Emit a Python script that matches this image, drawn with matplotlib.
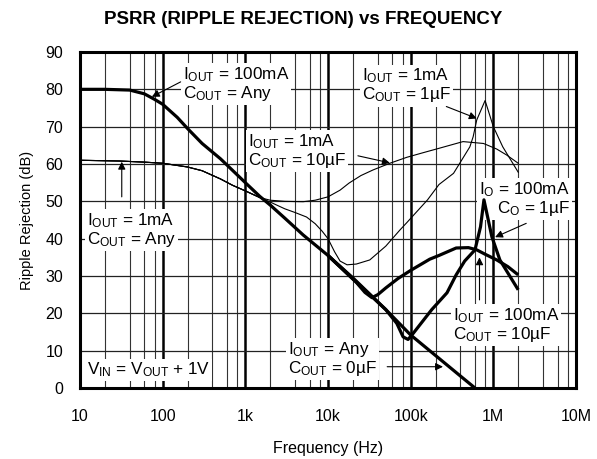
import matplotlib
matplotlib.use("Agg")
import matplotlib.pyplot as plt
from matplotlib.ticker import LogLocator, FixedLocator, FixedFormatter, NullFormatter

plt.rcParams['font.family'] = ['Liberation Sans', 'DejaVu Sans']
plt.rcParams['mathtext.fontset'] = 'custom'
plt.rcParams['mathtext.rm'] = 'Liberation Sans'
plt.rcParams['mathtext.it'] = 'Liberation Sans:italic'
plt.rcParams['mathtext.bf'] = 'Liberation Sans:bold'

# ---- data (Hz, dB) ----
# I_OUT = 100mA, C_OUT = Any (also I_OUT = Any, C_OUT = 0uF)
f_main = [10, 20, 40, 60, 80, 100, 150, 200, 300, 500, 700, 1000, 1500, 2000,
          3000, 5000, 10000, 20000, 50000, 100000, 200000, 400000, 600000]
db_main = [80, 80, 79.8, 78.8, 77.3, 76, 72.5, 69.5, 65.5, 61.4, 58.3, 55, 51.3, 49,
           45.5, 41, 35.5, 29.5, 21, 14.2, 8.7, 3.2, 0]

# I_OUT = 1mA, C_OUT = Any
f_1ma_any = [10, 30, 60, 100, 200, 300, 500, 700, 1000, 1500, 2000, 3000, 5000,
             10000, 20000, 50000, 100000, 200000, 400000, 600000]
db_1ma_any = [61, 60.8, 60.5, 60.2, 59.2, 58.2, 56, 54.3, 52.8, 51, 49.3, 45.5, 41,
              35.5, 29.5, 21, 14.2, 8.7, 3.2, 0]

# I_OUT = 1mA, C_OUT = 10uF
f_1ma_10u = [10, 30, 60, 100, 200, 300, 500, 700, 1000, 1500, 2000, 3000, 5000,
             7000, 10000, 14000, 18000, 25000, 35000, 56000, 90000, 140000, 220000,
             430000, 760000, 1100000, 1450000, 2000000]
db_1ma_10u = [61, 60.8, 60.5, 60.2, 59.2, 58.2, 56, 54.3, 52.8, 51, 50.3, 50, 49.9,
              50.3, 51.2, 53, 54.9, 56.9, 58.4, 60.2, 61.8, 63, 64.2,
              66, 65.5, 64, 62.4, 60.2]

# I_OUT = 1mA, C_OUT = 1uF
f_1ma_1u = [10, 30, 60, 100, 200, 300, 500, 700, 1000, 1500, 2000, 3000, 4000,
            5500, 7000, 8500, 10000, 12000, 14000, 17000, 22000, 32000, 50000,
            74000, 89000, 160000, 220000, 330000, 520000, 570000, 630000, 795000,
            1000000, 1300000, 2000000]
db_1ma_1u = [61, 60.8, 60.5, 60.2, 59.2, 58.2, 56, 54.3, 52.8, 51, 49.8, 48, 47,
             45.8, 44, 42, 40, 36.5, 34, 33, 33.2, 34.3, 38,
             42.3, 44.2, 50.4, 54.5, 57.5, 64.6, 67.3, 71.8, 77,
             70, 64.6, 57.8]

# I_OUT = 100mA, C_OUT = 10uF
f_100ma_10u = [10000, 22000, 28000, 34000, 40000, 50000, 70000, 100000, 170000,
               220000, 355000, 500000, 630000, 800000, 1100000, 1500000, 2000000]
db_100ma_10u = [35.5, 28.3, 25.6, 24.2, 25, 26.8, 29.3, 31.5, 34.5,
                35.5, 37.5, 37.6, 37, 35.8, 34.3, 32.5, 30.3]

# I_OUT = 100mA, C_OUT = 1uF
f_100ma_1u = [10000, 50000, 68000, 81000, 93000, 107000, 180000, 275000, 355000,
              450000, 600000, 700000, 770000, 960000, 1200000, 2000000]
db_100ma_1u = [35.5, 21, 17.3, 13.7, 13, 14.6, 21, 25.5, 30.3,
               34, 37, 43.2, 50.4, 40.5, 34.3, 26.3]

x_ticks = [10, 100, 1e3, 1e4, 1e5, 1e6, 1e7]
x_labels = ["10", "100", "1k", "10k", "100k", "1M", "10M"]
y_ticks = list(range(0, 91, 10))

fig = plt.figure(figsize=(5.97, 4.59), dpi=100)
ax = fig.add_axes([80 / 597, 71 / 459, 496 / 597, 336 / 459])

ax.set_xscale('log')
ax.set_xlim(10, 1e7)
ax.set_ylim(0, 90)

ax.xaxis.set_major_locator(FixedLocator(x_ticks))
ax.xaxis.set_major_formatter(FixedFormatter(x_labels))
ax.xaxis.set_minor_locator(LogLocator(base=10, subs=[2, 4, 6, 8], numticks=20))
ax.xaxis.set_minor_formatter(NullFormatter())
ax.set_yticks(y_ticks)

ax.grid(which='major', axis='x', color='black', lw=1.8, zorder=1)
ax.grid(which='minor', axis='x', color='#333333', lw=0.8, zorder=1)
ax.grid(which='major', axis='y', color='#222222', lw=0.9, zorder=1)
ax.set_axisbelow(True)
ax.tick_params(which='both', length=0, labelsize=11.5)
ax.tick_params(axis='x', pad=15)
ax.tick_params(axis='y', pad=12)
for s in ax.spines.values():
    s.set_linewidth(2.2)

thick = dict(color='black', lw=2.3, zorder=4, solid_capstyle='butt')
thin = dict(color='black', lw=0.8, zorder=4)
ax.plot(f_main, db_main, **thick)
ax.plot(f_100ma_10u, db_100ma_10u, **thick)
ax.plot(f_100ma_1u, db_100ma_1u, **thick)
ax.plot(f_1ma_any, db_1ma_any, **thin)
ax.plot(f_1ma_10u, db_1ma_10u, **thin)
ax.plot(f_1ma_1u, db_1ma_1u, **thin)

box = dict(facecolor='white', edgecolor='none', pad=1.5)
lab = dict(fontsize=12.3, va='center', zorder=3, bbox=box, linespacing=1.0)
arw = dict(arrowstyle='-|>', color='black', lw=0.8, mutation_scale=11,
           shrinkA=0, shrinkB=0)

ax.text(176, 81.5, "I$_{\\rm OUT}$ = 100mA\nC$_{\\rm OUT}$ = Any", **lab)
ax.annotate("", xy=(74, 78), xytext=(165, 82), arrowprops=arw, zorder=5)

ax.text(12.2, 42.3, "I$_{\\rm OUT}$ = 1mA\nC$_{\\rm OUT}$ = Any", **lab)
ax.annotate("", xy=(32, 60.6), xytext=(32, 51.2), arrowprops=arw, zorder=5)

ax.text(1070, 63.5, "I$_{\\rm OUT}$ = 1mA\nC$_{\\rm OUT}$ = 10µF", **lab)
ax.annotate("", xy=(56000, 60.3), xytext=(23000, 62.2), arrowprops=arw, zorder=5)

ax.text(26000, 81, "I$_{\\rm OUT}$ = 1mA\nC$_{\\rm OUT}$ = 1µF", **lab)
ax.annotate("", xy=(630000, 72.2), xytext=(270000, 75.4), arrowprops=arw, zorder=5)

ax.text(8.4e6, 50.6, "I$_{\\rm O}$ = 100mA\nC$_{\\rm O}$ = 1µF", ha='right',
        multialignment='right', **lab)
ax.annotate("", xy=(1.05e6, 40.4), xytext=(2.5e6, 44.1), arrowprops=arw, zorder=5)

ax.text(324000, 16.9, "I$_{\\rm OUT}$ = 100mA\nC$_{\\rm OUT}$ = 10µF", **lab)
ax.annotate("", xy=(680000, 35), xytext=(680000, 23.6), arrowprops=arw, zorder=5)

ax.text(3270, 7.8, "I$_{\\rm OUT}$ = Any\nC$_{\\rm OUT}$ = 0µF", **lab)
ax.annotate("", xy=(246000, 5.7), xytext=(52000, 5.7), arrowprops=arw, zorder=5)

ax.text(12.2, 4.8, "V$_{\\rm IN}$ = V$_{\\rm OUT}$ + 1V", **lab)

ax.set_ylabel("Ripple Rejection (dB)", fontsize=10.5, labelpad=8)
ax.set_xlabel("Frequency (Hz)", fontsize=11.5, labelpad=12)
fig.text(303 / 597, 1 - 20 / 459, "PSRR (RIPPLE REJECTION) vs FREQUENCY",
         ha='center', va='center', fontsize=13.5, fontweight='bold')

fig.savefig("out.png", dpi=100)
